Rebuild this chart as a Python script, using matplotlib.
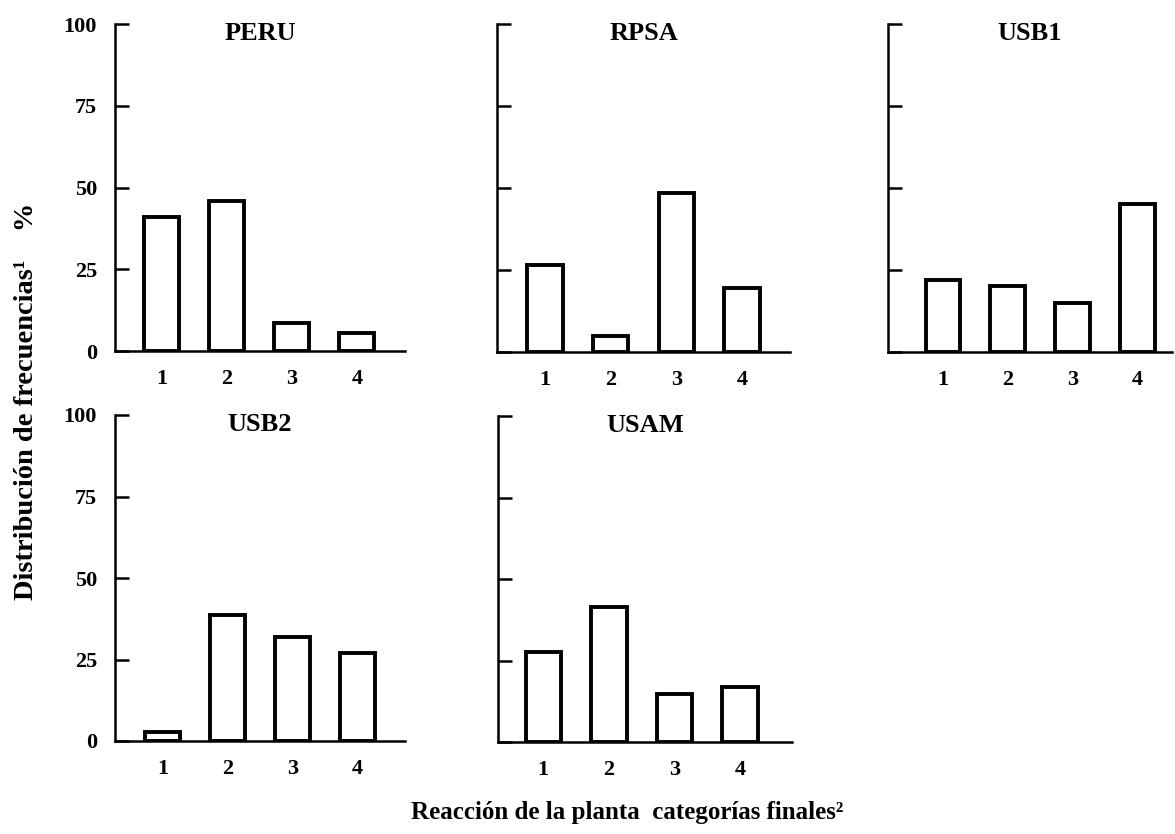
import matplotlib
matplotlib.use("Agg")
import matplotlib.pyplot as plt

plt.rcParams.update({
    "font.family": "Liberation Serif",
    "font.weight": "bold",
})

categories = [1, 2, 3, 4]
tick_labels = ["1", "2", "3", "4"]
y_ticks = [0, 25, 50, 75, 100]

panel_names = ["PERU", "RPSA", "USB1", "USB2", "USAM"]
peru = [41, 46, 8.5, 5.5]
rpsa = [26.5, 5, 48.5, 19.5]
usb1 = [22, 20, 15, 45]
usb2 = [2.8, 38.5, 32, 27]
usam = [27.5, 41.5, 14.7, 16.8]
panel_values = [peru, rpsa, usb1, usb2, usam]

W, H = 1175, 834
# pixel boxes (left, top, right, bottom) and x-limits per panel
layout = [
    ((115, 24, 405, 351), (0.28, 4.74), True),
    ((497, 24, 790, 352), (0.27, 4.73), False),
    ((888, 24, 1172, 352), (0.15, 4.54), False),
    ((115, 415, 405, 741), (0.26, 4.74), True),
    ((498, 416, 792, 742), (0.31, 4.79), False),
]

fig = plt.figure(figsize=(W / 100, H / 100), dpi=100)

for name, vals, (box, xl, show_y) in zip(panel_names, panel_values, layout):
    l, t, r, b = box
    ax = fig.add_axes([l / W, 1 - b / H, (r - l) / W, (b - t) / H])
    ax.bar(categories, vals, width=0.54, color="white", edgecolor="black", linewidth=2.8)
    ax.set_xlim(*xl); ax.set_ylim(0, 100)
    ax.set_yticks(y_ticks)
    ax.set_yticklabels([str(v) for v in y_ticks] if show_y else [])
    ax.set_xticks(categories)
    ax.set_xticklabels(tick_labels)
    ax.tick_params(axis="y", direction="in", length=10, width=1.8, pad=13, labelsize=16)
    ax.tick_params(axis="x", length=0, pad=13, labelsize=16)
    for s in ["top", "right"]:
        ax.spines[s].set_visible(False)
    for s in ["left", "bottom"]:
        ax.spines[s].set_linewidth(1.8)
    ax.text(0.5, 1.005, name, transform=ax.transAxes, ha="center", va="top",
            fontsize=19, fontweight="bold")

fig.text(27 / W, 1 - 401 / H, "Distribución de frecuencias¹    %", rotation=90,
         ha="center", va="center", fontsize=20.5, fontweight="bold")
fig.text(627 / W, 1 - 812 / H, "Reacción de la planta  categorías finales²",
         ha="center", va="center", fontsize=18, fontweight="bold")

fig.savefig("out.png", dpi=100, facecolor="white")
